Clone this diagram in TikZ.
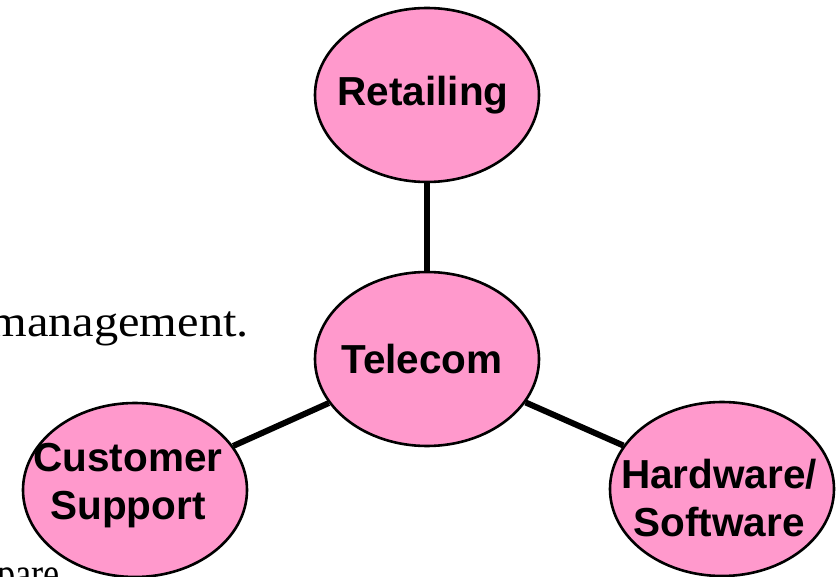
\documentclass[tikz,border=0pt]{standalone}
\usepackage{fontspec}
\usepackage{xcolor}
\usepackage{tikz}
\usetikzlibrary{shapes.geometric,positioning}
\newfontfamily\bubblefont{Liberation Sans}
\newfontfamily\slidefont{Liberation Serif}
\definecolor{bubblepink}{RGB}{255,153,204}

\tikzset{
  bubble/.style={ellipse,draw=black,line width=2.6pt,fill=bubblepink,
                 minimum width=224pt,minimum height=174pt,inner sep=0pt},
  bubbletext/.style={align=center,inner sep=0pt,
                 font=\bubblefont\bfseries\fontsize{40.5}{48}\selectfont},
  slidetext/.style={inner sep=0pt,xscale=1.1,transform shape,
                 font=\slidefont\fontsize{44}{52}\selectfont},
  link/.style={line width=6pt,black}
}

\begin{document}
\begin{tikzpicture}[x=1pt,y=-1pt]
\useasboundingbox (0,0) rectangle (836,577);
% slide text behind the diagram
\node[slidetext,anchor=base east] (mgmt) at (249,337) {management.};
\node[slidetext,xscale=0.75,anchor=base west] (cmp) at (-3,588) {pare};
% bubbles
\node[bubble] (ret)  at (427,95)  {};
\node[bubble] (tel)  at (427,359) {};
\node[bubble] (cust) at (135,490) {};
\node[bubble] (hw)   at (722,489) {};
% links to the centre
\draw[link] (ret) -- (tel);
\draw[link] (tel) -- (cust);
\draw[link] (tel) -- (hw);
% labels
\node[bubbletext] (ret-t)  at (423,95)  {Retailing};
\node[bubbletext] (tel-t)  at (422,359) {Telecom};
\node[bubbletext] (cust-t) at (128,486) {Customer\\Support};
\node[bubbletext] (hw-t)   at (719,498) {Hardware/\\Software};
\end{tikzpicture}
\end{document}
